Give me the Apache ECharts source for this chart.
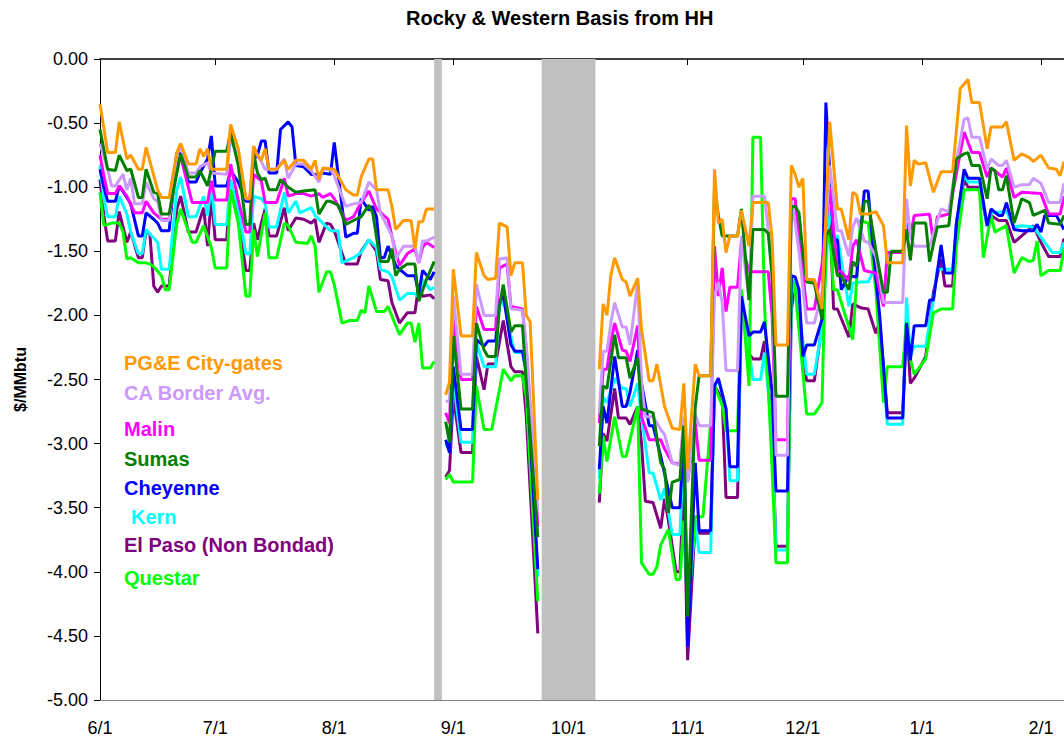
<!DOCTYPE html>
<html>
<head>
<meta charset="utf-8">
<title>Rocky & Western Basis from HH</title>
<script src="https://cdn.jsdelivr.net/npm/echarts@6/dist/echarts.min.js"></script>
<style>
  html, body { margin: 0; padding: 0; background: #fff; }
  #main { width: 1064px; height: 739px; }
</style>
</head>
<body>
<div id="main"></div>
<script>
// daily categories, 6/1 through 2/7
const dates = [];
for (let i = 0; i < 252; i++) {
  const d = new Date(2007, 5, 1 + i);
  dates.push((d.getMonth() + 1) + "/" + d.getDate());
}

const yTicks = [0, -0.5, -1, -1.5, -2, -2.5, -3, -3.5, -4, -4.5, -5];

// shaded (no data) periods, as category indexes
const bands = [[87, 89], [115, 129]];

// [day index, $/MMbtu] ; '-' breaks the line
const pgeCityGates = [
  [0,-0.35],[2,-0.73],[4,-0.73],[5,-0.49],[7,-0.78],[8,-0.75],[10,-0.86],[11,-0.86],[12,-0.69],[14,-0.91],[15,-1.02],[16,-1.08],[18,-1.08],[20,-0.73],[21,-0.66],[23,-0.82],[25,-0.82],[26,-0.70],[27,-0.76],[28,-0.70],[29,-0.86],[33,-0.86],[34,-0.51],[36,-0.70],[38,-1.09],[39,-1.09],[40,-0.68],[41,-0.75],[42,-0.79],[43,-0.70],[44,-0.86],[46,-0.86],[48,-0.79],[49,-0.86],[51,-0.79],[53,-0.79],[55,-0.86],[56,-0.79],[57,-0.94],[58,-0.85],[61,-0.86],[64,-1.02],[66,-1.06],[67,-1.06],[68,-0.92],[70,-0.78],[71,-0.78],[72,-1.02],[75,-1.02],[76,-1.15],[77,-1.33],[79,-1.26],[81,-1.26],[82,-1.48],[83,-1.27],[84,-1.27],[85,-1.17],[87,-1.17],
  [88,'-'],
  [90,-2.62],[91,-2.52],[92,-1.64],[94,-2.16],[97,-2.16],[98,-1.51],[100,-1.69],[101,-1.72],[103,-1.71],[104,-1.28],[106,-1.31],[107,-1.69],[108,-1.59],[110,-1.59],[111,-2.00],[112,-2.05],[114,-3.44],
  [115,'-'],
  [130,-2.42],[131,-1.91],[132,-2.0],[133,-1.69],[134,-1.55],[136,-1.72],[137,-1.74],[138,-1.85],[140,-1.71],[141,-2.11],[143,-2.51],[144,-2.51],[145,-2.38],[147,-2.71],[149,-2.88],[151,-2.89],[152,-2.53],[153,-3.2],[155,-2.38],[156,-2.47],[159,-2.47],[160,-0.86],[161,-1.28],[162,-1.25],[163,-1.51],[164,-1.38],[166,-1.38],[167,-1.18],[169,-1.46],[170,-1.12],[174,-1.12],[175,-1.4],[176,-2.23],[179,-2.23],[180,-0.83],[181,-0.90],[182,-1.0],[183,-0.93],[184,-1.72],[186,-1.72],[188,-1.95],[190,-0.49],[192,-1.17],[193,-1.17],[195,-1.41],[196,-1.04],[197,-1.06],[198,-1.21],[200,-1.21],[202,-1.19],[204,-1.30],[205,-1.59],[209,-1.59],[210,-0.52],[211,-0.99],[212,-0.79],[213,-0.82],[215,-0.81],[217,-1.04],[219,-0.88],[222,-0.88],[224,-0.23],[226,-0.16],[227,-0.34],[229,-0.34],[231,-0.70],[232,-0.53],[235,-0.53],[236,-0.49],[238,-0.79],[240,-0.74],[242,-0.77],[243,-0.80],[245,-0.75],[247,-0.85],[249,-0.86],[250,-0.91],[251,-0.80]
];

const caBorderAvg = [
  [0,-0.66],[2,-0.86],[3,-0.99],[4,-0.99],[6,-0.90],[7,-1.02],[8,-0.93],[9,-1.13],[11,-1.13],[12,-0.96],[14,-1.09],[15,-1.11],[16,-1.26],[18,-1.26],[20,-0.75],[21,-0.68],[23,-0.89],[25,-0.89],[26,-0.84],[28,-0.81],[29,-0.89],[33,-0.90],[34,-0.62],[36,-0.77],[38,-1.09],[39,-1.09],[40,-0.71],[42,-0.80],[43,-0.86],[46,-0.86],[48,-0.78],[49,-0.93],[51,-0.82],[53,-0.82],[55,-0.87],[57,-0.96],[58,-0.86],[60,-0.86],[61,-0.91],[64,-1.15],[66,-1.13],[68,-1.12],[70,-0.96],[72,-1.02],[73,-1.20],[76,-1.38],[77,-1.56],[79,-1.46],[82,-1.46],[83,-1.59],[84,-1.42],[85,-1.42],[87,-1.39],
  [88,'-'],
  [90,-2.67],[91,-2.67],[92,-1.85],[94,-2.46],[97,-2.46],[98,-1.76],[100,-2.0],[103,-2.0],[104,-1.56],[106,-1.55],[107,-1.95],[108,-1.95],[110,-1.96],[111,-2.24],[114,-3.52],
  [115,'-'],
  [130,-2.76],[131,-2.28],[132,-2.28],[133,-2.06],[134,-1.90],[136,-2.09],[137,-2.09],[138,-2.23],[140,-1.74],[141,-2.53],[142,-2.79],[144,-2.79],[146,-2.89],[147,-2.93],[149,-3.15],[151,-3.17],[152,-2.79],[153,-3.3],[155,-2.77],[156,-2.86],[159,-2.86],[160,-1.85],[161,-1.74],[162,-1.90],[163,-2.43],[166,-2.43],[167,-1.38],[169,-1.88],[170,-1.07],[173,-1.07],[175,-1.6],[176,-3.09],[179,-3.09],[180,-1.10],[181,-1.28],[182,-1.50],[184,-2.06],[186,-2.06],[188,-1.82],[190,-0.83],[192,-1.34],[193,-1.34],[195,-1.54],[196,-1.31],[197,-1.24],[199,-1.42],[200,-1.43],[202,-1.54],[204,-1.90],[205,-1.90],[209,-1.90],[210,-1.09],[211,-1.38],[212,-1.46],[216,-1.46],[217,-1.36],[219,-1.17],[221,-1.19],[223,-0.80],[225,-0.47],[226,-0.46],[227,-0.61],[229,-0.61],[231,-0.86],[232,-0.78],[234,-0.83],[235,-0.83],[236,-0.79],[238,-1.00],[240,-0.98],[242,-0.98],[243,-0.93],[245,-0.97],[247,-1.12],[250,-1.12],[251,-0.97]
];

const malin = [
  [0,-0.75],[1,-0.91],[2,-1.05],[4,-1.05],[5,-0.99],[7,-1.07],[9,-1.20],[11,-1.20],[12,-1.11],[14,-1.20],[16,-1.25],[18,-1.25],[20,-0.80],[21,-0.76],[23,-1.00],[24,-1.12],[28,-1.12],[29,-0.95],[30,-1.10],[33,-1.10],[34,-0.82],[36,-1.10],[38,-1.35],[39,-1.35],[40,-0.90],[42,-0.95],[43,-1.12],[46,-1.12],[48,-0.93],[49,-1.07],[51,-1.05],[53,-1.05],[55,-1.07],[57,-1.05],[58,-1.08],[60,-1.05],[61,-1.09],[64,-1.26],[66,-1.23],[68,-1.12],[70,-1.03],[72,-1.17],[75,-1.25],[77,-1.51],[78,-1.61],[80,-1.52],[82,-1.48],[83,-1.59],[84,-1.47],[85,-1.43],[87,-1.47],
  [88,'-'],
  [90,-2.76],[91,-2.84],[92,-2.0],[94,-2.50],[97,-2.50],[98,-1.93],[100,-2.11],[103,-2.11],[104,-1.63],[106,-1.60],[107,-1.93],[110,-1.95],[111,-2.27],[114,-3.65],
  [115,'-'],
  [130,-2.84],[131,-2.42],[132,-2.42],[133,-2.21],[134,-2.06],[136,-2.27],[137,-2.28],[138,-2.36],[140,-2.08],[141,-2.79],[143,-2.97],[146,-2.97],[147,-3.04],[149,-3.15],[151,-3.16],[152,-2.86],[153,-3.3],[155,-2.84],[156,-3.13],[159,-3.13],[160,-1.46],[161,-1.85],[162,-1.63],[163,-1.97],[164,-1.78],[166,-1.78],[167,-1.43],[169,-1.66],[174,-1.66],[175,-2.0],[176,-2.97],[179,-2.97],[180,-1.09],[181,-1.09],[182,-1.40],[184,-1.95],[186,-1.95],[188,-1.60],[190,-1.00],[192,-1.65],[193,-1.66],[195,-1.73],[196,-1.46],[197,-1.41],[199,-1.65],[202,-1.67],[204,-1.93],[205,-1.51],[209,-1.51],[210,-1.28],[211,-1.38],[212,-1.22],[216,-1.21],[217,-1.43],[218,-1.23],[221,-1.21],[225,-0.57],[227,-0.73],[229,-0.73],[231,-0.92],[232,-0.85],[235,-0.92],[236,-0.85],[238,-1.08],[240,-1.04],[245,-1.05],[247,-1.21],[250,-1.21],[251,-1.07]
];

const sumas = [
  [0,-0.55],[2,-0.86],[4,-0.87],[5,-0.75],[7,-0.87],[8,-0.86],[10,-1.08],[11,-1.08],[12,-0.86],[14,-1.04],[15,-1.05],[16,-1.21],[18,-1.21],[20,-0.89],[21,-0.74],[23,-0.92],[25,-0.92],[26,-0.87],[28,-0.99],[30,-0.72],[33,-0.72],[34,-0.57],[36,-0.83],[38,-1.29],[39,-1.29],[40,-0.73],[41,-0.89],[42,-0.94],[43,-0.93],[44,-1.02],[46,-1.02],[47,-0.94],[49,-1.00],[51,-1.04],[53,-1.03],[56,-1.02],[57,-1.21],[59,-1.11],[60,-1.11],[62,-1.14],[64,-1.29],[66,-1.26],[68,-1.23],[70,-1.14],[71,-1.20],[73,-1.58],[75,-1.58],[76,-1.48],[77,-1.69],[78,-1.64],[80,-1.60],[82,-1.60],[83,-1.89],[85,-1.72],[87,-1.58],
  [88,'-'],
  [90,-2.83],[91,-2.99],[92,-2.16],[94,-2.73],[97,-2.73],[98,-2.06],[100,-2.27],[101,-2.32],[103,-2.32],[104,-1.93],[105,-1.76],[107,-2.13],[108,-2.08],[110,-2.08],[111,-2.53],[114,-3.73],
  [115,'-'],
  [130,-3.02],[131,-2.55],[132,-2.57],[134,-2.15],[135,-2.33],[137,-2.33],[138,-2.49],[140,-2.33],[141,-2.73],[143,-2.75],[144,-2.76],[146,-3.15],[147,-3.20],[148,-3.54],[149,-3.30],[151,-3.28],[152,-2.86],[153,-4.35],[155,-2.71],[156,-2.47],[159,-2.47],[160,-1.00],[161,-1.22],[162,-1.38],[166,-1.38],[167,-1.17],[169,-1.88],[170,-1.33],[173,-1.33],[174,-1.36],[175,-1.7],[176,-2.63],[179,-2.63],[180,-1.15],[181,-1.15],[182,-1.20],[183,-1.51],[184,-1.74],[186,-1.75],[188,-2.03],[189,-1.38],[190,-1.33],[192,-1.69],[193,-1.69],[195,-1.80],[196,-1.58],[197,-1.62],[199,-1.11],[200,-1.11],[202,-1.49],[204,-1.82],[205,-1.82],[206,-1.50],[209,-1.50],[210,-1.33],[211,-1.57],[212,-1.28],[215,-1.28],[216,-1.58],[218,-1.31],[221,-1.30],[223,-0.78],[225,-0.74],[226,-0.73],[227,-0.83],[229,-0.83],[231,-1.09],[232,-0.85],[233,-0.87],[234,-1.02],[235,-1.02],[236,-0.91],[238,-1.28],[240,-1.09],[242,-1.12],[243,-1.22],[246,-1.18],[247,-1.28],[250,-1.29],[251,-1.22]
];

const cheyenne = [
  [0,-0.86],[1,-1.00],[2,-1.11],[4,-1.11],[5,-0.99],[7,-1.08],[8,-1.13],[10,-1.38],[11,-1.38],[12,-1.20],[14,-1.25],[15,-1.28],[16,-1.34],[18,-1.34],[20,-0.73],[21,-0.74],[23,-0.96],[25,-0.96],[26,-0.89],[28,-0.78],[29,-0.60],[30,-0.99],[33,-0.99],[34,-0.87],[36,-0.96],[38,-1.11],[39,-1.11],[40,-0.78],[41,-0.75],[42,-0.64],[43,-0.64],[44,-0.89],[46,-0.89],[47,-0.55],[49,-0.49],[50,-0.53],[51,-0.83],[53,-0.84],[55,-0.90],[57,-0.90],[58,-0.89],[60,-0.90],[61,-0.65],[64,-1.39],[66,-1.36],[67,-1.36],[68,-1.09],[70,-1.18],[71,-1.15],[72,-1.23],[73,-1.55],[74,-1.55],[75,-1.46],[77,-1.61],[78,-1.64],[80,-1.69],[82,-1.69],[83,-1.83],[84,-1.65],[86,-1.72],[87,-1.66],
  [88,'-'],
  [90,-2.97],[91,-3.07],[92,-2.40],[94,-2.89],[97,-2.89],[98,-2.19],[100,-2.24],[101,-2.20],[103,-2.20],[104,-1.90],[105,-1.84],[107,-2.23],[108,-2.28],[110,-2.28],[111,-2.44],[114,-3.98],
  [115,'-'],
  [130,-3.20],[131,-2.71],[132,-2.84],[134,-2.32],[136,-2.71],[137,-2.71],[138,-2.60],[140,-2.27],[141,-2.53],[143,-2.86],[144,-2.86],[146,-3.10],[149,-3.50],[151,-3.50],[152,-2.90],[153,-4.58],[155,-3.15],[156,-3.68],[159,-3.68],[160,-2.55],[161,-2.49],[163,-2.73],[164,-3.18],[166,-3.18],[167,-1.85],[169,-2.16],[170,-2.13],[172,-2.13],[173,-2.05],[175,-2.6],[176,-3.37],[179,-3.37],[180,-1.69],[181,-1.70],[182,-1.80],[183,-2.32],[184,-2.23],[186,-2.23],[188,-2.03],[189,-0.34],[191,-1.41],[192,-1.41],[193,-1.80],[195,-1.69],[197,-1.70],[199,-1.03],[200,-1.03],[202,-1.71],[203,-2.00],[205,-2.80],[209,-2.80],[210,-2.06],[211,-2.35],[212,-2.08],[215,-2.08],[216,-1.88],[217,-1.88],[219,-1.45],[220,-1.67],[222,-1.67],[223,-1.28],[225,-0.86],[226,-0.93],[229,-0.93],[231,-1.30],[232,-1.17],[234,-1.22],[235,-1.22],[236,-1.12],[238,-1.33],[240,-1.34],[243,-1.34],[244,-1.29],[245,-1.35],[246,-1.22],[249,-1.22],[251,-1.33]
];

const kern = [
  [0,-0.83],[1,-1.09],[2,-1.23],[4,-1.23],[5,-1.07],[7,-1.21],[8,-1.35],[10,-1.52],[11,-1.52],[12,-1.33],[15,-1.43],[16,-1.64],[18,-1.64],[20,-1.02],[21,-0.92],[23,-1.23],[25,-1.23],[27,-1.07],[28,-1.22],[29,-0.98],[30,-1.29],[33,-1.29],[34,-0.94],[36,-1.17],[38,-1.52],[39,-1.52],[40,-1.07],[42,-1.09],[43,-1.13],[44,-1.31],[46,-1.31],[48,-1.04],[49,-1.20],[51,-1.11],[52,-1.20],[55,-1.16],[56,-1.22],[58,-1.28],[60,-1.34],[62,-1.34],[63,-1.59],[66,-1.55],[68,-1.51],[70,-1.41],[72,-1.47],[73,-1.64],[75,-1.66],[76,-1.70],[78,-1.88],[80,-1.83],[82,-1.83],[83,-1.86],[84,-1.72],[86,-1.80],[87,-1.78],
  [88,'-'],
  [90,-3.00],[91,-3.05],[92,-2.50],[94,-2.99],[97,-2.99],[98,-2.21],[100,-2.40],[103,-2.40],[104,-1.88],[106,-1.95],[107,-2.17],[108,-2.29],[110,-2.29],[111,-2.45],[114,-4.04],
  [115,'-'],
  [130,-3.27],[131,-2.64],[132,-2.68],[134,-2.49],[136,-2.57],[137,-2.57],[138,-2.71],[140,-2.53],[141,-2.79],[143,-3.23],[144,-3.23],[146,-3.44],[147,-3.35],[149,-3.71],[151,-3.71],[152,-3.00],[153,-4.35],[155,-3.60],[156,-3.85],[159,-3.85],[160,-2.55],[161,-2.50],[163,-2.73],[164,-3.29],[166,-3.29],[167,-1.80],[169,-2.27],[170,-2.50],[172,-2.50],[173,-2.29],[175,-2.9],[176,-3.83],[179,-3.83],[180,-1.85],[181,-1.72],[182,-1.95],[184,-2.46],[186,-2.46],[188,-2.09],[190,-1.15],[191,-1.38],[192,-1.38],[195,-1.93],[196,-1.75],[198,-1.74],[200,-1.74],[202,-1.61],[203,-2.06],[205,-2.85],[209,-2.85],[210,-1.86],[211,-2.32],[212,-2.24],[215,-2.24],[217,-1.88],[218,-1.64],[222,-1.64],[223,-1.28],[225,-0.89],[226,-0.96],[229,-0.96],[231,-1.31],[232,-1.20],[236,-1.19],[238,-1.31],[240,-1.30],[243,-1.31],[246,-1.43],[248,-1.51],[250,-1.51],[251,-1.43]
];

const elPaso = [
  [0,-0.94],[1,-1.22],[2,-1.42],[4,-1.42],[5,-1.19],[7,-1.43],[8,-1.35],[10,-1.55],[11,-1.55],[12,-1.34],[13,-1.37],[14,-1.77],[15,-1.82],[16,-1.77],[18,-1.77],[20,-1.17],[21,-1.07],[23,-1.35],[25,-1.35],[27,-1.16],[28,-1.46],[29,-1.07],[30,-1.41],[33,-1.41],[34,-0.96],[36,-1.25],[38,-1.65],[39,-1.65],[40,-1.28],[41,-1.41],[42,-1.28],[43,-1.17],[44,-1.38],[46,-1.38],[48,-1.16],[49,-1.34],[51,-1.24],[53,-1.25],[55,-1.28],[56,-1.25],[57,-1.43],[59,-1.28],[60,-1.29],[61,-1.34],[64,-1.60],[67,-1.60],[68,-1.50],[70,-1.41],[72,-1.50],[73,-1.72],[75,-1.73],[76,-1.90],[78,-2.06],[80,-1.98],[82,-1.98],[83,-1.76],[84,-1.85],[86,-1.84],[87,-1.87],
  [88,'-'],
  [90,-3.26],[91,-3.21],[92,-2.63],[94,-3.07],[97,-3.07],[98,-2.32],[100,-2.58],[101,-2.38],[103,-2.38],[104,-2.21],[105,-2.04],[107,-2.40],[108,-2.44],[110,-2.44],[111,-2.79],[114,-4.48],
  [115,'-'],
  [130,-3.46],[131,-2.92],[132,-2.98],[134,-2.57],[135,-2.80],[137,-2.80],[138,-2.85],[140,-2.71],[141,-3.00],[142,-3.45],[144,-3.46],[146,-3.66],[147,-3.43],[148,-3.60],[150,-4.00],[151,-4.00],[152,-3.30],[153,-4.69],[155,-3.60],[156,-3.70],[159,-3.70],[160,-2.55],[162,-2.65],[163,-3.42],[166,-3.42],[167,-1.90],[169,-2.30],[170,-2.34],[172,-2.34],[173,-2.20],[175,-2.9],[176,-3.80],[179,-3.80],[180,-1.96],[181,-1.75],[182,-1.90],[183,-2.32],[184,-2.51],[186,-2.51],[188,-2.07],[189,-1.38],[190,-1.15],[191,-1.95],[192,-1.95],[195,-2.17],[196,-1.91],[198,-1.94],[200,-1.95],[202,-2.14],[203,-2.05],[205,-2.76],[209,-2.76],[210,-2.05],[211,-2.53],[212,-2.49],[215,-2.32],[217,-1.82],[219,-1.56],[220,-1.77],[222,-1.77],[223,-1.28],[225,-0.94],[226,-1.00],[229,-1.00],[231,-1.30],[232,-1.22],[234,-1.26],[236,-1.26],[238,-1.43],[240,-1.38],[243,-1.30],[245,-1.43],[247,-1.54],[250,-1.54],[251,-1.40]
];

const questar = [
  [0,-1.04],[1,-1.30],[3,-1.28],[5,-1.28],[6,-1.35],[7,-1.56],[8,-1.55],[10,-1.59],[12,-1.59],[13,-1.60],[14,-1.62],[16,-1.69],[17,-1.80],[18,-1.80],[20,-1.28],[21,-1.17],[24,-1.43],[25,-1.43],[27,-1.30],[29,-1.47],[30,-1.63],[33,-1.63],[34,-1.02],[36,-1.28],[38,-1.85],[39,-1.85],[40,-1.33],[41,-1.54],[43,-1.20],[44,-1.55],[46,-1.55],[48,-1.28],[49,-1.30],[51,-1.43],[54,-1.44],[55,-1.38],[56,-1.46],[57,-1.82],[59,-1.66],[60,-1.66],[61,-1.76],[63,-2.06],[65,-2.04],[67,-2.04],[68,-1.96],[69,-1.98],[70,-1.77],[72,-1.97],[74,-1.97],[75,-1.93],[77,-2.08],[78,-2.15],[80,-2.06],[81,-2.06],[82,-2.21],[83,-2.06],[84,-2.41],[86,-2.41],[87,-2.36],
  [88,'-'],
  [90,-3.28],[91,-3.24],[92,-3.30],[97,-3.30],[98,-2.55],[100,-2.89],[102,-2.89],[104,-2.58],[105,-2.42],[107,-2.51],[108,-2.47],[110,-2.47],[111,-2.64],[114,-4.23],
  [115,'-'],
  [130,-3.39],[131,-2.94],[132,-3.14],[134,-2.79],[136,-3.10],[137,-3.10],[140,-2.71],[141,-3.93],[143,-4.02],[144,-4.02],[145,-3.96],[146,-3.79],[148,-3.67],[150,-4.06],[151,-4.06],[152,-3.60],[153,-4.30],[155,-3.57],[157,-3.57],[159,-2.84],[160,-2.55],[162,-2.70],[163,-2.90],[166,-2.90],[167,-1.80],[169,-2.55],[170,-0.61],[172,-0.61],[173,-1.90],[175,-3.2],[176,-3.93],[179,-3.93],[180,-1.70],[181,-1.80],[182,-2.11],[184,-2.77],[186,-2.77],[188,-2.68],[189,-1.48],[190,-1.33],[191,-1.80],[192,-1.80],[196,-2.19],[198,-1.26],[200,-1.28],[202,-1.80],[204,-2.68],[205,-2.40],[209,-2.40],[210,-2.05],[211,-2.34],[212,-2.46],[215,-2.34],[217,-1.98],[219,-1.95],[222,-1.95],[223,-1.46],[225,-1.02],[229,-1.02],[230,-1.55],[232,-1.22],[233,-1.35],[236,-1.30],[238,-1.67],[240,-1.55],[242,-1.58],[243,-1.57],[244,-1.42],[245,-1.69],[247,-1.65],[250,-1.65],[251,-1.48]
];

// legend order (top to bottom) and colours
const names = ["PG&E City-gates", "CA Border Avg.", "Malin", "Sumas", "Cheyenne", "Kern", "El Paso (Non Bondad)", "Questar"];
const colors = ["#FF9900", "#CC99FF", "#FF00FF", "#008000", "#0000FF", "#00FFFF", "#800080", "#00FF00"];
const values = [pgeCityGates, caBorderAvg, malin, sumas, cheyenne, kern, elPaso, questar];
// drawing order, bottom first
const drawOrder = [6, 5, 7, 4, 2, 1, 3, 0];

const isMonthStart = (idx, val) => val.split("/")[1] === "1";
const FONT = "'Liberation Sans', Arial, sans-serif";

const chart = echarts.init(document.getElementById("main"), null, { renderer: "svg" });

const series = drawOrder.map((k, n) => {
  const s = {
    name: names[k],
    type: "line",
    data: values[k],
    showSymbol: false,
    symbol: "none",
    connectNulls: false,
    animation: false,
    lineStyle: { color: colors[k], width: 3 },
    itemStyle: { color: colors[k] },
  };
  if (n === 0) {
    s.markArea = {
      silent: true,
      itemStyle: { color: "#C0C0C0", opacity: 1 },
      data: bands.map((b) => [{ xAxis: dates[b[0]] }, { xAxis: dates[b[1]] }]),
    };
  }
  return s;
});

// series names written inside the plot, in the series colours
const legendY = [363, 393, 429, 459, 488, 517, 545, 578];
const legendText = names.map((nm, k) => ({
  type: "text",
  x: k === 5 ? 131 : 124,
  y: legendY[k],
  silent: true,
  style: {
    text: nm,
    fill: colors[k],
    font: "bold 20px " + FONT,
    verticalAlign: "middle",
  },
}));

chart.setOption({
  backgroundColor: "#fff",
  animation: false,
  title: {
    text: "Rocky & Western Basis from HH",
    left: 406,
    top: 8,
    padding: 0,
    textStyle: { fontFamily: FONT, fontSize: 20, fontWeight: "bold", color: "#000" },
  },
  grid: { left: 100, right: 0, top: 59, bottom: 39, containLabel: false },
  xAxis: [
    {
      type: "category",
      data: dates,
      boundaryGap: false,
      position: "bottom",
      axisLine: { onZero: false, lineStyle: { color: "#808080", width: 1 } },
      axisTick: { show: false },
      axisLabel: {
        interval: isMonthStart,
        margin: 19,
        fontFamily: FONT,
        fontSize: 18,
        color: "#000",
      },
      splitLine: { show: false },
    },
    {
      type: "category",
      data: dates,
      boundaryGap: false,
      position: "top",
      axisLine: { onZero: false, lineStyle: { color: "#000", width: 1.5 } },
      axisTick: { show: true, inside: true, length: 6, interval: isMonthStart, lineStyle: { color: "#000" } },
      axisLabel: { show: false },
      splitLine: { show: false },
    },
  ],
  yAxis: {
    type: "value",
    min: yTicks[yTicks.length - 1],
    max: yTicks[0],
    interval: 0.5,
    name: "$/MMbtu",
    nameLocation: "middle",
    nameRotate: 90,
    nameGap: 72,
    nameTextStyle: { fontFamily: FONT, fontSize: 16, fontWeight: "bold", color: "#000" },
    axisLine: { show: true, onZero: false, lineStyle: { color: "#000", width: 1 } },
    axisTick: { show: true, length: 6, lineStyle: { color: "#000" } },
    axisLabel: {
      margin: 12,
      fontFamily: FONT,
      fontSize: 18,
      color: "#000",
      formatter: (v) => v.toFixed(2),
    },
    splitLine: { show: false },
  },
  graphic: legendText,
  series: series,
});

window.addEventListener("resize", () => {
  chart.resize();
});
</script>
</body>
</html>
